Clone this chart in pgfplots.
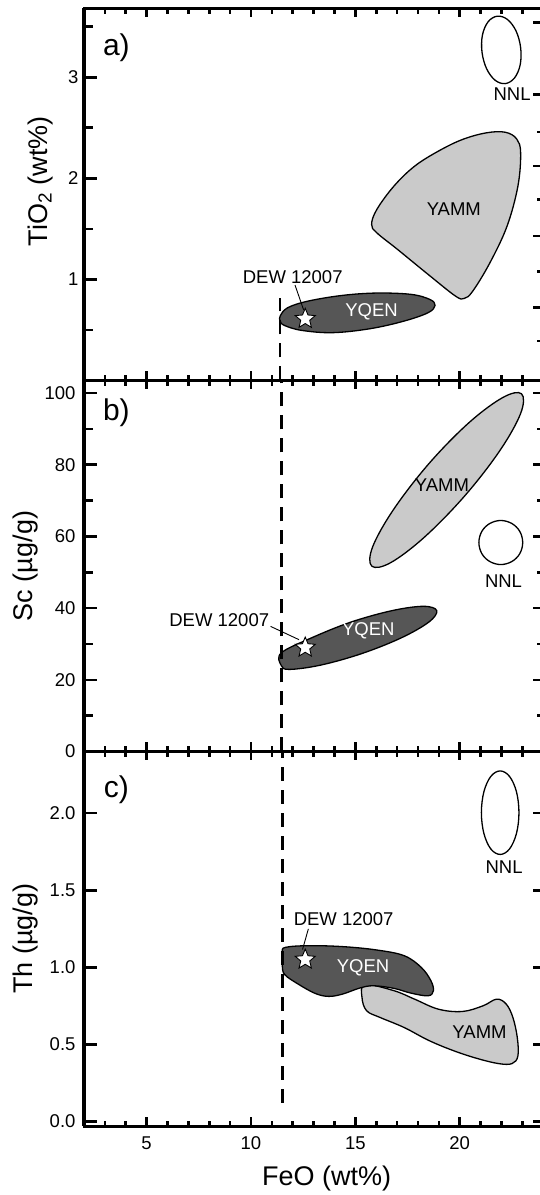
\documentclass[border=0pt]{standalone}
\usepackage{pgfplots}
\pgfplotsset{compat=1.18}
\usepackage{fontspec}
\setmainfont{Liberation Sans}
\definecolor{lgray}{RGB}{202,202,202}
\definecolor{dgray}{RGB}{86,86,86}
\pgfdeclareplotmark{fstar}{%
  \pgfpathmoveto{\pgfpointpolar{90}{\pgfplotmarksize}}%
  \pgfpathlineto{\pgfpointpolar{126}{0.45\pgfplotmarksize}}%
  \pgfpathlineto{\pgfpointpolar{162}{\pgfplotmarksize}}%
  \pgfpathlineto{\pgfpointpolar{198}{0.45\pgfplotmarksize}}%
  \pgfpathlineto{\pgfpointpolar{234}{\pgfplotmarksize}}%
  \pgfpathlineto{\pgfpointpolar{270}{0.45\pgfplotmarksize}}%
  \pgfpathlineto{\pgfpointpolar{306}{\pgfplotmarksize}}%
  \pgfpathlineto{\pgfpointpolar{342}{0.45\pgfplotmarksize}}%
  \pgfpathlineto{\pgfpointpolar{18}{\pgfplotmarksize}}%
  \pgfpathlineto{\pgfpointpolar{54}{0.45\pgfplotmarksize}}%
  \pgfpathclose\pgfusepathqfillstroke}
\tikzset{
  lab/.style={font=\fontsize{18.5}{22}\selectfont},
  plab/.style={font=\fontsize{30}{34}\selectfont},
}
\pgfplotsset{
  common/.style={
    scale only axis, width=462.3pt,
    xmin=2, xmax=24.15,
    tick align=inside,
    axis line style={line width=3pt},
    every major tick/.append style={black, line width=2.6pt},
    every minor tick/.append style={black, line width=2.6pt},
    tick label style={font=\fontsize{18.5}{22}\selectfont},
    label style={font=\fontsize{27}{31}\selectfont},
    /pgf/number format/assume math mode=true,
  },
  panel/.style={common,
    xtick={5,10,15,20},
    minor xtick={3,4,6,7,8,9,11,12,13,14,16,17,18,19,21,22,23,24},
    major tick length=9pt, minor tick length=5.5pt,
    xticklabel style={yshift=-7pt},
    ytick=\empty,
  },
  yov/.style={common, hide x axis,
    major tick length=13pt, minor tick length=9pt,
    yticklabel style={xshift=-5pt},
    ylabel style={at={(axis description cs:-0.1255,0.5)}, anchor=center},
  },
  region/.style={draw=black, line width=1.3pt, smooth cycle, tension=0.6},
  dline/.style={black, line width=2.6pt, dash pattern=on 14pt off 9pt},
  starmark/.style={only marks, mark=fstar, mark size=10.5pt, mark options={fill=white, draw=black, line width=0.9pt}},
}
\begin{document}
\begin{tikzpicture}
% ---------------- panel c ----------------
\begin{axis}[panel, at={(0pt,0pt)}, anchor=south west, height=374.5pt,
  ymin=-0.03, ymax=2.4,
  xlabel={FeO (wt\%)},
  xlabel style={at={(axis description cs:0.525,-0.14)}, anchor=center}]
\addplot[region, fill=lgray] coordinates {
 (15.46,0.887) (16.85,0.848) (17.84,0.793) (18.98,0.728) (20.13,0.713)
 (21.12,0.750) (21.77,0.793) (22.23,0.761) (22.55,0.674) (22.76,0.544)
 (22.79,0.425) (22.51,0.375) (21.86,0.375) (20.79,0.410) (19.64,0.462)
 (18.49,0.527) (17.34,0.609) (16.19,0.674) (15.54,0.718) (15.32,0.804)};
\addplot[region, fill=dgray] coordinates {
 (11.50,1.097) (11.65,1.129) (12.75,1.140) (14.39,1.134) (16.03,1.112)
 (17.34,1.075) (18.16,0.999) (18.62,0.913) (18.74,0.848) (18.49,0.815)
 (17.67,0.832) (16.85,0.863) (15.87,0.880) (15.21,0.865) (14.39,0.826)
 (13.73,0.811) (13.08,0.830) (12.26,0.891) (11.62,0.952) (11.50,1.010)};
\addplot[region, fill=white] coordinates {
 (22.84,2.003) (22.72,2.139) (22.39,2.238) (21.94,2.274) (21.49,2.238) (21.16,2.139)
 (21.04,2.003) (21.16,1.868) (21.49,1.768) (21.94,1.732) (22.39,1.768) (22.72,1.868)};
\addplot[dline] coordinates {(11.5,0.12) (11.5,2.4)};
\addplot[black, line width=0.9pt] coordinates {(12.75,1.249) (12.47,1.115)};
\addplot[starmark] coordinates {(12.6,1.05)};
\node[lab] at (axis cs:14.44,1.314) {DEW 12007};
\node[lab, text=white] at (axis cs:15.37,0.995) {YQEN};
\node[lab] at (axis cs:20.95,0.577) {YAMM};
\node[lab] at (axis cs:22.13,1.65) {NNL};
\node[plab] at (rel axis cs:0.07,0.897) {c)};
\end{axis}
\begin{axis}[yov, at={(0pt,0pt)}, anchor=south west, height=374.5pt,
  ymin=-0.03, ymax=2.4, ytick={0,0.5,1,1.5,2},
  yticklabel style={/pgf/number format/.cd, fixed, fixed zerofill, precision=1},
  ylabel={Th (µg/g)}]
\end{axis}
% ---------------- panel b ----------------
\begin{axis}[panel, at={(0pt,374.5pt)}, anchor=south west, height=371pt,
  ymin=0, ymax=103.5, xticklabels={}]
\addplot[region, fill=lgray] coordinates {
 (22.96,99.8) (22.92,94.3) (21.92,83.9) (20.24,71.3) (18.33,59.9) (16.70,52.7)
 (15.79,51.7) (15.83,57.1) (16.83,67.5) (18.51,80.2) (20.42,91.6) (22.05,98.7)};
\addplot[region, fill=dgray] coordinates {
 (18.90,39.3) (18.52,36.1) (17.20,31.7) (15.30,27.3) (13.34,24.1) (11.84,22.9)
 (11.45,24.0) (11.45,27.5) (12.90,31.7) (14.79,36.1) (16.76,39.3) (18.26,40.5)};
\addplot[region, fill=white] coordinates {
 (23.02,58.3) (22.88,61.4) (22.50,63.6) (21.97,64.45) (21.44,63.6) (21.06,61.4)
 (20.92,58.3) (21.06,55.2) (21.44,53.0) (21.97,52.15) (22.50,53.0) (22.88,55.2)};
\addplot[dline] coordinates {(11.45,0) (11.45,103.5)};
\addplot[black, line width=0.9pt] coordinates {(10.94,34.9) (12.3,31.2)};
\addplot[starmark] coordinates {(12.6,29.0)};
\node[lab] at (axis cs:8.48,36.6) {DEW 12007};
\node[lab, text=white] at (axis cs:15.62,33.6) {YQEN};
\node[lab] at (axis cs:19.15,74.3) {YAMM};
\node[lab] at (axis cs:22.10,47.5) {NNL};
\node[plab] at (rel axis cs:0.07,0.912) {b)};
\end{axis}
\begin{axis}[yov, at={(0pt,374.5pt)}, anchor=south west, height=371pt,
  ymin=0, ymax=103.5, ytick={0,20,40,60,80,100}, minor ytick={10,30,50,70,90},
  ylabel={Sc (µg/g)}]
\end{axis}
% ---------------- panel a ----------------
\begin{axis}[panel, at={(0pt,745.5pt)}, anchor=south west, height=372pt,
  ymin=0, ymax=3.68, xticklabels={}]
\addplot[region, fill=lgray] coordinates {
 (15.78,1.544) (16.03,1.692) (16.85,1.923) (17.84,2.120) (18.98,2.269) (20.13,2.384)
 (21.28,2.450) (22.18,2.456) (22.73,2.390) (22.92,2.252) (22.79,1.923) (22.27,1.527)
 (21.45,1.165) (20.63,0.885) (20.22,0.812) (19.80,0.835) (18.49,1.049) (17.02,1.297)
 (16.03,1.461)};
\addplot[region, fill=dgray] coordinates {
 (11.40,0.638) (11.76,0.720) (12.75,0.786) (14.39,0.842) (16.03,0.865) (17.67,0.852)
 (18.57,0.802) (18.82,0.743) (18.49,0.671) (17.34,0.588) (15.70,0.512) (13.90,0.473)
 (12.42,0.496) (11.60,0.545) (11.40,0.588)};
\addplot[region, fill=white] coordinates {
 (21.80,3.604) (22.29,3.571) (22.70,3.458) (22.92,3.294) (22.90,3.124) (22.63,2.994)
 (22.19,2.937) (21.70,2.970) (21.29,3.084) (21.07,3.247) (21.09,3.417) (21.36,3.548)};
\addplot[dline] coordinates {(11.4,0) (11.4,0.82)};
\addplot[black, line width=0.9pt] coordinates {(12.11,0.944) (12.52,0.70)};
\addplot[starmark] coordinates {(12.6,0.61)};
\node[lab] at (axis cs:12.0,1.02) {DEW 12007};
\node[lab, text=white] at (axis cs:15.78,0.68) {YQEN};
\node[lab] at (axis cs:19.72,1.70) {YAMM};
\node[lab] at (axis cs:22.51,2.83) {NNL};
\node[plab] at (rel axis cs:0.07,0.894) {a)};
\end{axis}
% left ticks of panel a
\begin{axis}[yov, at={(0pt,745.5pt)}, anchor=south west, height=372pt,
  ymin=0, ymax=3.68, ytick={1,2,3}, minor ytick={0.5,1.5,2.5,3.5}, ytick pos=left,
  yticklabel style={xshift=3pt},
  ylabel={TiO\textsubscript{2} (wt\%)},
  ylabel style={at={(axis description cs:-0.095,0.535)}, anchor=center}]
\end{axis}
% right-hand ticks of panel a
\begin{axis}[yov, at={(0pt,745.5pt)}, anchor=south west, height=372pt,
  ymin=0, ymax=3.68, ytick pos=right,
  ytick={0.72,1.43,2.12,2.83,3.54}, minor ytick={0.39,1.08,1.79,2.46},
  yticklabels={}]
\end{axis}
\pgfresetboundingbox
\useasboundingbox (-84pt,-69pt) rectangle (456pt,1126pt);
\end{tikzpicture}
\end{document}
